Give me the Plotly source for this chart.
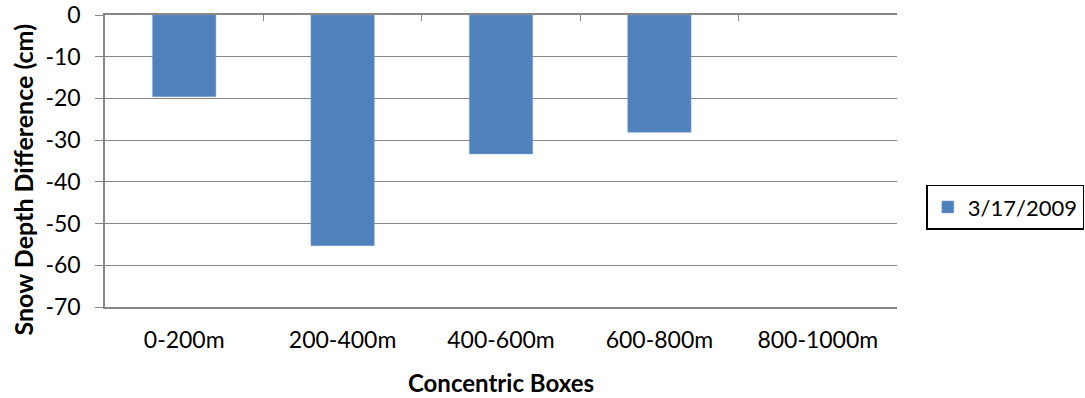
import plotly.graph_objects as go

categories = ["0-200m", "200-400m", "400-600m", "600-800m", "800-1000m"]
values = [-19.6, -55.3, -33.3, -28.1, None]
series_name = "3/17/2009"
y_ticks = [0, -10, -20, -30, -40, -50, -60, -70]
y_tick_text = ["0", "-10", "-20", "-30", "-40", "-50", "-60", "-70"]
y_title = "Snow Depth Difference (cm)"
x_title = "Concentric Boxes"

FONT = "Lato, Carlito, Calibri, sans-serif"
GRID = "#878787"

fig = go.Figure()
fig.add_trace(go.Bar(x=categories, y=values, name=series_name,
                     marker=dict(color="#4F81BD", line=dict(color="#7FA3D0", width=0.5)),
                     xaxis="x", yaxis="y"))
fig.add_trace(go.Bar(x=categories, y=[None]*len(categories), showlegend=False,
                     hoverinfo="skip", xaxis="x2", yaxis="y"))

fig.update_layout(
    width=1085, height=398,
    margin=dict(l=105, r=188, t=15, b=91, autoexpand=False),
    paper_bgcolor="white", plot_bgcolor="white",
    font=dict(family=FONT, size=23, color="black"),
    bargap=0.6,
    showlegend=True,
    legend=dict(x=1.037, y=0.342, xanchor="left", yanchor="middle",
                bordercolor="black", borderwidth=1.5, font=dict(size=22),
                itemwidth=30, tracegroupgap=0),
    xaxis=dict(type="category", categoryorder="array", categoryarray=categories,
               automargin=False,
               showgrid=False, showline=True, linecolor=GRID, linewidth=1.5, zeroline=False,
               ticks="outside", ticklen=12, tickcolor="rgba(0,0,0,0)",
               title=dict(text="<b>" + x_title + "</b>", font=dict(size=24), standoff=23)),
    xaxis2=dict(type="category", categoryorder="array", categoryarray=categories,
                overlaying="x", side="top", anchor="y", matches="x", automargin=False,
                tickson="boundaries", ticks="inside", ticklen=6, tickcolor=GRID,
                showticklabels=False, showline=True, linecolor=GRID, linewidth=1.5,
                showgrid=False),
    yaxis=dict(range=[-70, 0], tickvals=y_ticks, ticktext=y_tick_text, automargin=False,
               showgrid=True, gridcolor=GRID,
               gridwidth=1, zeroline=False, showline=True, linecolor=GRID, linewidth=1.5,
               ticks="outside", ticklen=8, tickcolor=GRID, ticklabelstandoff=10),
    annotations=[dict(text="<b>" + y_title + "</b>", textangle=-90,
                      xref="paper", yref="paper", x=-(105 - 22.5) / 792, y=(307 - 180) / 292,
                      xanchor="center", yanchor="middle", showarrow=False,
                      font=dict(size=25))],
)

fig.write_html("out.html", config={"displayModeBar": False},
               post_script="document.body.style.margin='0';document.body.style.overflow='hidden';")
